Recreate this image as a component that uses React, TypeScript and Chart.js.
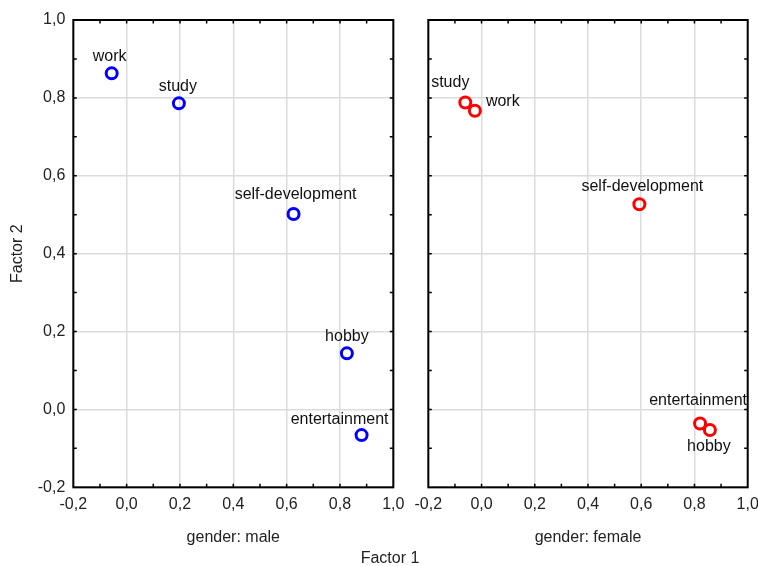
import React, { useEffect, useRef } from "react";
import { Chart, registerables } from "chart.js";

Chart.register(...registerables);

// ---- data ----
const categories = ["work", "study", "self-development", "hobby", "entertainment"];
const maleFactor1 = [-0.056, 0.196, 0.626, 0.826, 0.881];
const maleFactor2 = [0.863, 0.786, 0.502, 0.144, -0.066];
const femaleFactor1 = [-0.025, -0.061, 0.593, 0.858, 0.821];
const femaleFactor2 = [0.767, 0.788, 0.527, -0.053, -0.036];
const panelTitles = ["gender: male", "gender: female"];
const xTitle = "Factor 1";
const yTitle = "Factor 2";
const axisMin = -0.2;
const axisMax = 1.0;
const majorStep = 0.2;
const minorStep = 0.1;

// ---- label placement (layout only) ----
const maleLabelOffsets: [number, number, string][] = [
  [-2, -17, "center"],
  [-1, -17, "center"],
  [2, -19, "center"],
  [0, -17, "center"],
  [-22, -16, "center"],
];
const femaleLabelOffsets: [number, number, string][] = [
  [11, -9, "left"],
  [-15, -20, "center"],
  [3, -18, "center"],
  [-1, 17, "center"],
  [-2, -23, "center"],
];

const FONT = "'Liberation Sans', Arial, sans-serif";

const fmt = (v: number) => {
  const n = Math.abs(v) < 1e-9 ? 0 : v;
  return n.toFixed(1).replace(".", ",");
};

function makePlugin(title: string, offsets: [number, number, string][], drawYTitle: boolean) {
  return {
    id: "decor",
    beforeDraw(chart: any) {
      const ctx = chart.ctx;
      ctx.save();
      ctx.fillStyle = "#ffffff";
      ctx.fillRect(0, 0, chart.width, chart.height);
      ctx.restore();
    },
    afterDraw(chart: any) {
      const ctx = chart.ctx;
      const { left, right, top, bottom } = chart.chartArea;
      const xs = chart.scales.x;
      const ys = chart.scales.y;
      ctx.save();
      // frame
      ctx.strokeStyle = "#000000";
      ctx.lineWidth = 2;
      ctx.strokeRect(left, top, right - left, bottom - top);
      // inward ticks
      ctx.lineWidth = 1.5;
      const n = Math.round((axisMax - axisMin) / minorStep);
      for (let i = 1; i < n; i++) {
        const v = axisMin + i * minorStep;
        const px = xs.getPixelForValue(v);
        const py = ys.getPixelForValue(v);
        ctx.beginPath();
        ctx.moveTo(px, top);
        ctx.lineTo(px, top + 3.5);
        ctx.moveTo(px, bottom);
        ctx.lineTo(px, bottom - 3.5);
        ctx.moveTo(left, py);
        ctx.lineTo(left + 3.5, py);
        ctx.moveTo(right, py);
        ctx.lineTo(right - 3.5, py);
        ctx.stroke();
      }
      // point labels
      ctx.fillStyle = "#111111";
      ctx.font = `16px ${FONT}`;
      ctx.textBaseline = "middle";
      const meta = chart.getDatasetMeta(0);
      meta.data.forEach((el: any, i: number) => {
        const [dx, dy, align] = offsets[i];
        ctx.textAlign = align;
        ctx.fillText(categories[i], el.x + dx, el.y + dy);
      });
      // panel title
      ctx.fillStyle = "#222222";
      ctx.textAlign = "center";
      ctx.fillText(title, (left + right) / 2, bottom + 50);
      if (drawYTitle) {
        ctx.translate(18, (top + bottom) / 2);
        ctx.rotate(-Math.PI / 2);
        ctx.fillText(yTitle, 0, 0);
      }
      ctx.restore();
    },
  };
}

function Panel(props: {
  xs: number[];
  ys: number[];
  color: string;
  title: string;
  offsets: [number, number, string][];
  showY: boolean;
  left: number;
  width: number;
  yWidth: number;
  padRight: number;
}) {
  const ref = useRef<HTMLCanvasElement | null>(null);
  useEffect(() => {
    if (!ref.current) return;
    const data = props.xs.map((x, i) => ({ x, y: props.ys[i] }));
    const chart = new Chart(ref.current, {
      type: "scatter",
      data: {
        datasets: [
          {
            data,
            borderColor: props.color,
            backgroundColor: "rgba(0,0,0,0)",
            borderWidth: 3,
            pointRadius: 5.5,
            pointHoverRadius: 5.5,
          },
        ],
      },
      options: {
        animation: false,
        responsive: false,
        maintainAspectRatio: false,
        devicePixelRatio: 1,
        layout: { padding: { top: 20, right: props.padRight, left: 0, bottom: 0 } },
        plugins: { legend: { display: false }, tooltip: { enabled: false } },
        scales: {
          x: {
            type: "linear",
            min: axisMin,
            max: axisMax,
            afterFit: (s: any) => {
              s.height = 78.7;
              s.paddingLeft = 0;
              s.paddingRight = 0;
            },
            ticks: {
              stepSize: majorStep,
              padding: 8,
              color: "#222222",
              font: { family: FONT, size: 16 },
              callback: (v: any) => fmt(Number(v)),
            },
            grid: { color: "#dcdcdc", lineWidth: 1.5, drawTicks: false },
            border: { display: false },
          },
          y: {
            type: "linear",
            min: axisMin,
            max: axisMax,
            afterFit: (s: any) => {
              s.width = props.yWidth;
              s.paddingTop = 0;
              s.paddingBottom = 0;
            },
            ticks: {
              display: props.showY,
              stepSize: majorStep,
              padding: 8,
              color: "#222222",
              font: { family: FONT, size: 16 },
              callback: (v: any) => fmt(Number(v)),
            },
            grid: { color: "#dcdcdc", lineWidth: 1.5, drawTicks: false },
            border: { display: false },
          },
        },
      },
      plugins: [makePlugin(props.title, props.offsets, props.showY)],
    });
    return () => chart.destroy();
  }, []);
  return (
    <canvas
      ref={ref}
      width={props.width}
      height={566}
      style={{ position: "absolute", left: props.left, top: 0, width: props.width, height: 566 }}
    />
  );
}

export default function App() {
  return (
    <div
      style={{
        position: "fixed",
        left: 0,
        top: 0,
        width: 758,
        height: 566,
        background: "#ffffff",
        overflow: "hidden",
      }}
    >
      <Panel
        xs={maleFactor1}
        ys={maleFactor2}
        color="#0000ff"
        title={panelTitles[0]}
        offsets={maleLabelOffsets}
        showY={true}
        left={0}
        width={410}
        yWidth={73.3}
        padRight={16.7}
      />
      <Panel
        xs={femaleFactor1}
        ys={femaleFactor2}
        color="#ff0000"
        title={panelTitles[1]}
        offsets={femaleLabelOffsets}
        showY={false}
        left={410}
        width={348}
        yWidth={18.3}
        padRight={10.3}
      />
      <div
        style={{
          position: "absolute",
          left: 340,
          width: 100,
          top: 548,
          textAlign: "center",
          fontFamily: FONT,
          fontSize: 16,
          lineHeight: "19px",
          color: "#222222",
        }}
      >
        {xTitle}
      </div>
    </div>
  );
}
